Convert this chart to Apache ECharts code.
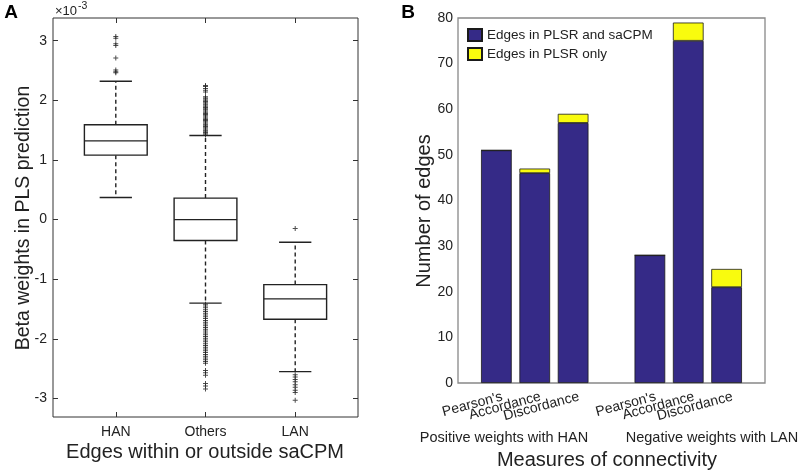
<!DOCTYPE html>
<html><head><meta charset="utf-8">
<script src="https://cdn.jsdelivr.net/npm/echarts@6/dist/echarts.min.js"></script>
<style>html,body{margin:0;padding:0;background:#fff}#c{width:800px;height:471px}</style>
</head><body><div id="c"></div>
<script>
// ---------- Panel A data (values in units of 10^-3) ----------
const boxCategories = ['HAN', 'Others', 'LAN'];
// [lower whisker, Q1, median, Q3, upper whisker]
const hanStats = [0.37, 1.08, 1.32, 1.59, 2.32];
const othersStats = [-1.40, -0.35, 0.00, 0.36, 1.41];
const lanStats = [-2.55, -1.67, -1.33, -1.09, -0.38];
const hanOutliers = [3.07, 3.04, 2.95, 2.92, 2.71, 2.51, 2.48, 2.46];
const othersOutliers = [2.25, 2.23, 2.20, 2.17, 2.14, 2.06, 2.04, 2.02, 2.00, 1.98, 1.96, 1.94, 1.92, 1.90,
  1.88, 1.86, 1.84, 1.82, 1.80, 1.78, 1.76, 1.74, 1.72, 1.70, 1.68, 1.66, 1.64, 1.62, 1.60, 1.58, 1.56,
  1.54, 1.52, 1.50, 1.48, 1.46, 1.44, 1.42,
  -1.42, -1.45, -1.48, -1.51, -1.54, -1.57, -1.60, -1.63, -1.66, -1.69, -1.72, -1.75, -1.78, -1.81,
  -1.84, -1.87, -1.90, -1.93, -1.96, -1.99, -2.02, -2.05, -2.08, -2.11, -2.14, -2.17, -2.20, -2.23,
  -2.26, -2.29, -2.32, -2.35, -2.38, -2.41, -2.53, -2.57, -2.61, -2.75, -2.79, -2.84];
const lanOutliers = [-0.15, -2.60, -2.64, -2.68, -2.72, -2.77, -2.81, -2.86, -2.90, -3.03];
const yTicksA = [-3, -2, -1, 0, 1, 2, 3];

// ---------- Panel B data ----------
const measures = ["Pearson's", 'Accordance', 'Discordance'];
const groupLabels = ['Positive weights with HAN', 'Negative weights with LAN'];
const seriesNames = ['Edges in PLSR and saCPM', 'Edges in PLSR only'];
const bothHAN = [51, 46, 57];
const onlyHAN = [0, 1, 2];
const bothLAN = [28, 75, 21];
const onlyLAN = [0, 4, 4];

const FONT = '"Liberation Sans", Arial, Helvetica, sans-serif';
const TXT = '#222';

const allStats = [hanStats, othersStats, lanStats];
const boxData = allStats.map((s, i) => [i + 1].concat(s));
const outlierData = [];
[hanOutliers, othersOutliers, lanOutliers].forEach((arr, i) => arr.forEach(v => outlierData.push([i + 1, v])));

const slots = [''].concat(measures, [''], measures, ['']);
const blueData = [null].concat(bothHAN, [null], bothLAN, [null]);
const yellowData = [null].concat(onlyHAN, [null], onlyLAN, [null]);

function renderBox(params, api) {
  const x = api.value(0);
  const lo = api.coord([x, api.value(1)]);
  const q1 = api.coord([x, api.value(2)]);
  const med = api.coord([x, api.value(3)]);
  const q3 = api.coord([x, api.value(4)]);
  const hi = api.coord([x, api.value(5)]);
  const bw = api.size([0.7, 0])[0];
  const cw = api.size([0.36, 0])[0];
  const cx = q1[0];
  const st = { stroke: '#222', lineWidth: 1.4, fill: null };
  const dash = { stroke: '#222', lineWidth: 1.4, lineDash: [4, 3] };
  return {
    type: 'group',
    children: [
      { type: 'line', shape: { x1: cx, y1: q3[1], x2: cx, y2: hi[1] }, style: dash },
      { type: 'line', shape: { x1: cx, y1: q1[1], x2: cx, y2: lo[1] }, style: dash },
      { type: 'line', shape: { x1: cx - cw / 2, y1: hi[1], x2: cx + cw / 2, y2: hi[1] }, style: st },
      { type: 'line', shape: { x1: cx - cw / 2, y1: lo[1], x2: cx + cw / 2, y2: lo[1] }, style: st },
      { type: 'rect', shape: { x: cx - bw / 2, y: q3[1], width: bw, height: q1[1] - q3[1] }, style: { stroke: '#222', lineWidth: 1.4, fill: '#fff' } },
      { type: 'line', shape: { x1: cx - bw / 2, y1: med[1], x2: cx + bw / 2, y2: med[1] }, style: st }
    ]
  };
}

function txt(text, x, y, size, opts) {
  opts = opts || {};
  return {
    type: 'text', x: x, y: y, rotation: opts.rotation || 0, z: 100,
    style: {
      text: text, fill: opts.fill || TXT,
      font: (opts.weight || 'normal') + ' ' + size + 'px ' + FONT,
      align: opts.align || 'center', verticalAlign: opts.va || 'middle',
      textAlign: opts.align || 'center', textVerticalAlign: opts.va || 'middle'
    }
  };
}

const chart = echarts.init(document.getElementById('c'), null, { renderer: 'canvas' });
const tickA = { show: true, inside: true, length: 5, lineStyle: { color: '#333', width: 1 } };
const noLine = { show: false, onZero: false };

chart.setOption({
  animation: false,
  backgroundColor: '#fff',
  textStyle: { fontFamily: FONT },
  grid: [
    { left: 53, top: 18, width: 305, height: 399, show: true, borderColor: '#333', borderWidth: 1, backgroundColor: 'transparent' },
    { left: 458, top: 18, width: 307, height: 365, show: true, borderColor: '#888', borderWidth: 1.3, backgroundColor: 'transparent' }
  ],
  xAxis: [
    { gridIndex: 0, type: 'value', min: 0.3, max: 3.7, axisLine: noLine, splitLine: { show: false },
      axisTick: Object.assign({ customValues: [1, 2, 3] }, tickA),
      axisLabel: { customValues: [1, 2, 3], formatter: v => boxCategories[Math.round(v) - 1], fontSize: 14, color: TXT, margin: 8, fontFamily: FONT } },
    { gridIndex: 0, type: 'value', position: 'top', min: 0.3, max: 3.7, axisLine: noLine, splitLine: { show: false },
      axisTick: Object.assign({ customValues: [1, 2, 3] }, tickA), axisLabel: { show: false } },
    { gridIndex: 1, type: 'category', data: slots, boundaryGap: false, axisLine: noLine, axisTick: { show: false },
      axisLabel: { interval: 0, rotate: 15, fontSize: 14, color: TXT, margin: 15, padding: [0, -6, 0, 0], fontFamily: FONT } }
  ],
  yAxis: [
    { gridIndex: 0, type: 'value', min: -3.31, max: 3.38, axisLine: noLine, splitLine: { show: false },
      axisTick: Object.assign({ customValues: yTicksA }, tickA),
      axisLabel: { customValues: yTicksA, fontSize: 14, color: TXT, margin: 6, fontFamily: FONT } },
    { gridIndex: 0, type: 'value', position: 'right', min: -3.31, max: 3.38, axisLine: noLine, splitLine: { show: false },
      axisTick: Object.assign({ customValues: yTicksA }, tickA), axisLabel: { show: false } },
    { gridIndex: 1, type: 'value', min: 0, max: 80, interval: 10, axisLine: noLine, splitLine: { show: false },
      axisTick: { show: false }, axisLabel: { fontSize: 14, color: TXT, margin: 5, fontFamily: FONT } }
  ],
  legend: {
    data: seriesNames, orient: 'vertical', left: 467, top: 28, padding: 0, itemWidth: 14, itemHeight: 12, itemGap: 5,
    icon: 'rect', textStyle: { fontSize: 13.5, color: TXT, fontFamily: FONT }
  },
  series: [
    { type: 'custom', xAxisIndex: 0, yAxisIndex: 0, data: boxData, renderItem: renderBox, z: 2 },
    { type: 'scatter', xAxisIndex: 0, yAxisIndex: 0, data: outlierData, z: 3,
      symbol: 'path://M4,0h2v4h4v2h-4v4h-2v-4h-4v-2h4z', symbolSize: 5, itemStyle: { color: '#222' } },
    { name: seriesNames[0], type: 'bar', xAxisIndex: 2, yAxisIndex: 2, stack: 'e', data: blueData, barWidth: '80%',
      itemStyle: { color: '#352A87', borderColor: '#1a1a1a', borderWidth: 0.8 } },
    { name: seriesNames[1], type: 'bar', xAxisIndex: 2, yAxisIndex: 2, stack: 'e', data: yellowData, barWidth: '80%',
      itemStyle: { color: '#F9FB0E', borderColor: '#1a1a1a', borderWidth: 0.8 } }
  ],
  graphic: [
    txt('A', 11, 13, 19, { weight: 'bold', fill: '#000' }),
    txt('B', 408, 13, 19, { weight: 'bold', fill: '#000' }),
    txt('\u00d710', 55, 11, 13, { align: 'left' }),
    txt('-3', 78, 6, 10.5, { align: 'left' }),
    txt('Beta weights in PLS prediction', 24, 218, 19.5, { rotation: Math.PI / 2 }),
    txt('Edges within or outside saCPM', 205, 452, 20),
    txt('Number of edges', 424, 211, 20, { rotation: Math.PI / 2 }),
    txt(groupLabels[0], 504, 438, 14.5),
    txt(groupLabels[1], 712, 438, 14.5),
    txt('Measures of connectivity', 607, 460, 20)
  ]
});
</script>
</body></html>
